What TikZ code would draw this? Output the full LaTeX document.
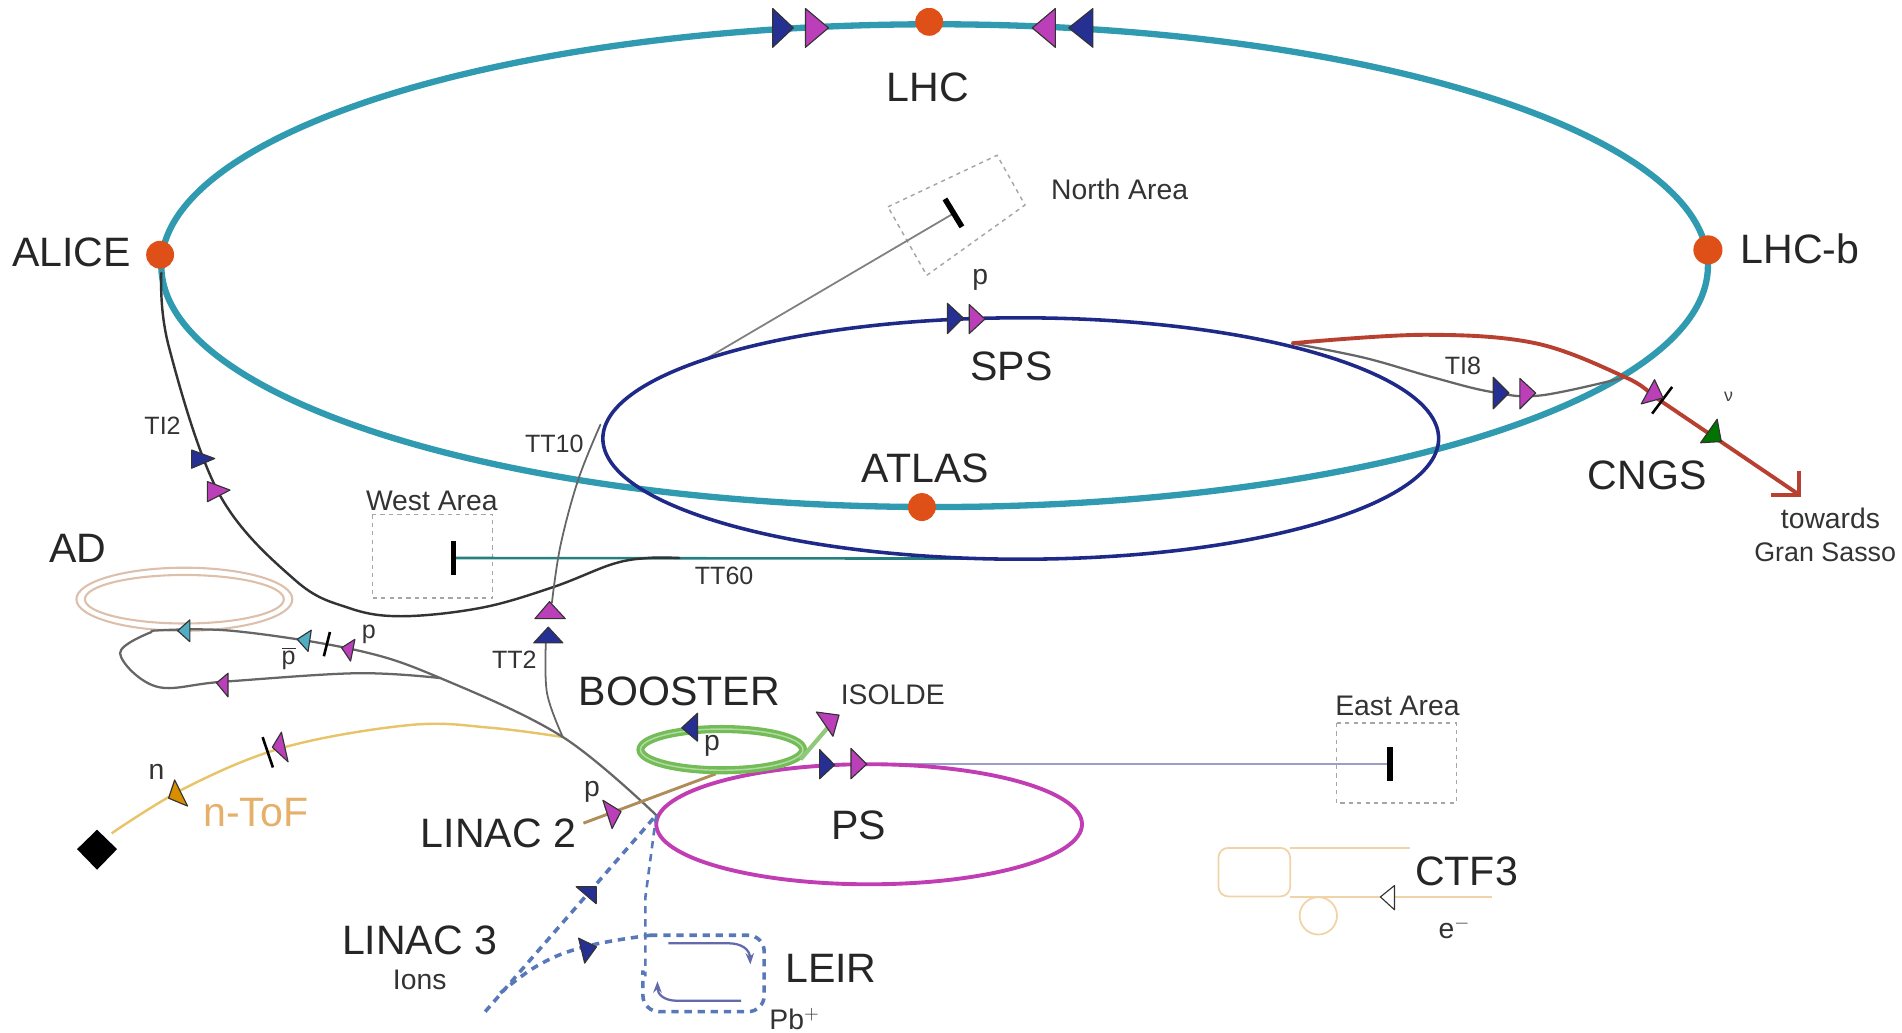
\documentclass[tikz,border=0pt]{standalone}
\usepackage{fontspec}
\setmainfont{Liberation Sans}
\usetikzlibrary{arrows.meta}
\definecolor{lhcteal}{HTML}{2F9AB0}
\definecolor{spsnavy}{HTML}{1F2A88}
\definecolor{psmag}{HTML}{C03DB4}
\definecolor{mknavy}{HTML}{262F92}
\definecolor{mkmag}{HTML}{BA3FB8}
\definecolor{mkteal}{HTML}{4FAEC2}
\definecolor{dotred}{HTML}{DE5018}
\definecolor{ntoftan}{HTML}{E8C468}
\definecolor{ntoftext}{HTML}{E5B06A}
\definecolor{linactan}{HTML}{B08C58}
\definecolor{cngsred}{HTML}{B84030}
\definecolor{adtan}{HTML}{DCC0AC}
\definecolor{ctftan}{HTML}{F0D4A8}
\definecolor{boostgreen}{HTML}{74BC58}
\definecolor{ionblue}{HTML}{5878B8}
\newcommand{\mk}[4]{\filldraw[markerbody,fill=#4] #1 -- #2 -- #3 -- cycle;}
\tikzset{
  big/.style={font=\fontsize{25.4}{28}\selectfont,text=black!85,inner sep=0pt},
  mid/.style={font=\fontsize{17.5}{20}\selectfont,text=black!80,inner sep=0pt},
  small/.style={font=\fontsize{15.5}{18}\selectfont,text=black!80,inner sep=0pt},
  markerbody/.style={draw=black!80,line width=0.7pt,line join=round},
  beamline/.style={draw=black!60,line width=1.4pt,line cap=round},
  tick/.style={draw=black,line width=1.6pt},
  stopbar/.style={draw=black,line width=3.4pt},
  area/.style={draw=black!35,line width=0.9pt,dash pattern=on 2.6pt off 2.6pt},
  ip/.style={fill=dotred},
  ionline/.style={draw=ionblue,line width=2.2pt,dash pattern=on 4.5pt off 3.6pt},
}
\begin{document}
\begin{tikzpicture}[x=0.75pt,y=-0.75pt]
\useasboundingbox (0,0) rectangle (1568,851);
\clip (0,7) rectangle (1568,851);

% junction coordinates
\coordinate (ringL) at (133,225);
\coordinate (spsExit) at (1065,283);
\coordinate (cross) at (1340,311);
\coordinate (northStart) at (580,297);
\coordinate (northEnd) at (786,176);
\coordinate (ttJoin) at (464,607.6);
\coordinate (psEntry) at (541,672);
\coordinate (tt60J) at (534,460);
\coordinate (cngsTip) at (1482,407);
\coordinate (westBar) at (374,460);
\coordinate (eastBar) at (1146,630);
\coordinate (tt2Top) at (455,497);
\coordinate (tt2Low) at (450,530);
\coordinate (adJ) at (363,559);
\coordinate (linacS) at (481,678.6);
\coordinate (linacE) at (590,638);
\coordinate (ion0) at (400,834);
\coordinate (ionF) at (412.5,818.6);
\coordinate (leirTL) at (536,771);
\coordinate (boostJ) at (660,626);
\coordinate (isolde) at (684,598);
\coordinate (psMark) at (714,630);

% area boxes
\draw[area] (307,424) rectangle (406,493);
\draw[area] (1101.6,596) rectangle (1200.5,662);
\draw[area] (732,170.5) -- (822,128) -- (845,169) -- (764,227) -- cycle;

% light lines
\draw[beamline,draw=black!50,line width=1.1pt] (northStart) -- (northEnd);
\draw[draw=black,stopbar] (779,164) -- (793,187);
\draw[draw=teal!70!gray,line width=1.6pt] (westBar) -- (800,460.5);
\draw[draw=spsnavy!45,line width=1.2pt] (psMark) -- (eastBar);

% AD ring
\draw[adtan,line width=1.3pt] (152,494) ellipse [x radius=89,y radius=26];
\draw[adtan,line width=1.3pt] (152,494) ellipse [x radius=82,y radius=20];

% LHC ring
\draw[lhcteal,line width=3.9pt] (770.5,219) ellipse [x radius=637.5,y radius=199];
% SPS ring
\draw[spsnavy,line width=2.2pt] (841.5,361.5) ellipse [x radius=344.5,y radius=99.5];
% PS ring
\draw[psmag,line width=2.4pt] (716.5,679.5) ellipse [x radius=175.5,y radius=49.5];

% transfer lines
\draw[beamline,draw=black!80,line width=1.5pt] plot[smooth,tension=0.6] coordinates {(ringL) (139,285) (180.5,406.8) (243,478) (287,501) (331,508) (397,501) (456,484) (505,465) (tt60J) (560,460)};
\draw[beamline,line width=1.1pt] plot[smooth,tension=0.6] coordinates {(495,350) (476.6,395.7) (462,450) (tt2Top)};
\draw[beamline,line width=1.1pt] plot[smooth,tension=0.6] coordinates {(tt2Low) (451,571.6) (ttJoin)};
\draw[ntoftan,line width=1.5pt] plot[smooth,tension=0.6] coordinates {(ttJoin) (405,600) (339,597.6) (235.6,615.7) (154.6,648.6) (92,687)};
\draw[beamline] plot[smooth,tension=0.6] coordinates {(125,520) (191,520) (294,536) (adJ) (ttJoin) (psEntry)};
\draw[beamline] plot[smooth,tension=0.6] coordinates {(125,521) (99,538.6) (129,566) (184,562) (294,555) (adJ)};
\draw[linactan,line width=1.8pt] (linacS) -- (linacE);

% booster
\draw[boostgreen,line width=5pt] (595,618) ellipse [x radius=67,y radius=17];
\draw[boostgreen!55,line width=0.9pt] (595,618) ellipse [x radius=67,y radius=17];
\draw[boostgreen!80!white,line width=2.6pt] (boostJ) -- (isolde);

% TI8 and CNGS
\draw[beamline] plot[smooth,tension=0.6] coordinates {(spsExit) (1125,295) (1181,311) (1229,323) (1270,326) (cross)};
\draw[cngsred,line width=2.4pt] plot[smooth,tension=0.6] coordinates {(spsExit) (1174,276) (1266,283) (cross) (1361,325)} -- (cngsTip);
\draw[cngsred,line width=2.4pt] (1483,388) -- (1483,408) -- (1460,408);
\draw[tick] (1378.5,319) -- (1362,341);

% ions
\draw[ionline] (ion0) -- (psEntry);
\draw[ionline] plot[smooth,tension=0.7] coordinates {(ionF) (445,795) (484,780) (leirTL)};
\draw[ionline,line width=1.6pt] (psEntry) -- (532,740) -- (532,805);
\draw[ionline,rounded corners=10pt] (536,771) -- (630,771) -- (630,834) -- (530,834) -- (530,800);
\draw[spsnavy!70!white,line width=1.4pt,-{Stealth[length=7pt]}] (551,777.6) -- (600,777.6) .. controls (612,777.6) and (618,783) .. (618.6,795);
\draw[spsnavy!70!white,line width=1.4pt,-{Stealth[length=7pt]}] (611,825) -- (558,825) .. controls (548,825) and (542,820) .. (542,809);

% ticks
\draw[tick] (272,521) -- (267,541);
\draw[tick] (216.5,607.7) -- (225,632.7);

% CTF3
\draw[ctftan,line width=1.1pt,rounded corners=6pt] (1004.5,699) rectangle (1063.6,739);
\draw[ctftan,line width=1.1pt] (1063.6,699) -- (1162.6,699);
\draw[ctftan,line width=1.1pt] (1063.6,739.5) -- (1230,739.5);
\draw[ctftan,line width=1.1pt] (1086.8,755) circle [radius=15.4];

% stop bars
\draw[stopbar] (374,446) -- (374,474);
\draw[stopbar] (1146,616) -- (1146,644);

% target
\fill[black] (80,684) -- (96.5,700) -- (80,717) -- (63.5,700) -- cycle;

% interaction points
\fill[ip] (132,210) circle [radius=11.5];
\fill[ip] (1408,206) circle [radius=12];
\fill[ip] (766,18) circle [radius=11.5];
\fill[ip] (760,418) circle [radius=11.5];

% LHC markers
\mk{(637,7)}{(654,23)}{(637,39)}{mknavy}
\mk{(664,7)}{(683,23)}{(664,39)}{mkmag}
\mk{(870,7)}{(851,23)}{(870,39)}{mkmag}
\mk{(901,7)}{(881,23)}{(901,39)}{mknavy}
% SPS markers
\mk{(781,250)}{(794,262)}{(781,275)}{mknavy}
\mk{(799,251)}{(812,263)}{(799,275)}{mkmag}
% TI8
\mk{(1231,311)}{(1244,324)}{(1231,337)}{mknavy}
\mk{(1253,312)}{(1266,324)}{(1253,337)}{mkmag}
% CNGS
\mk{(1364,313)}{(1353,333)}{(1371,328)}{mkmag}
\mk{(1415.6,345.6)}{(1402,365)}{(1419,364)}{green!45!black}
% TI2
\mk{(158,371)}{(177,378)}{(158,386)}{mknavy}
\mk{(171,397)}{(189.6,404)}{(171,413.6)}{mkmag}
% TT2
\mk{(441,510)}{(453,496)}{(466,510)}{mkmag}
\mk{(440,530)}{(452,517)}{(464,530)}{mknavy}
% AD
\mk{(146.5,520)}{(156.5,511)}{(156.5,529)}{mkteal}
\mk{(245,527)}{(256.6,519.5)}{(254,537)}{mkteal}
\mk{(281.6,534)}{(292.6,527)}{(289,545)}{mkmag}
\mk{(178.5,563)}{(188,555)}{(188,574.5)}{mkmag}
% nToF
\mk{(224.5,616)}{(232,603.6)}{(237.5,628)}{mkmag}
\mk{(144,643)}{(139,658)}{(154.6,664.5)}{orange!70!yellow!85!black}
% LINAC2
\mk{(497,659.7)}{(512,669)}{(504.6,683)}{mkmag}
% booster
\mk{(562,600)}{(575,588)}{(575,611)}{mknavy}
\mk{(673,587)}{(691.7,589.5)}{(686.7,607)}{mkmag}
% PS
\mk{(675.7,618)}{(688,630.6)}{(675.7,642)}{mknavy}
\mk{(701.5,617)}{(714.5,630)}{(701.5,642)}{mkmag}
% ions
\mk{(475,731)}{(491.5,731)}{(491.5,745)}{mknavy}
\mk{(477,773.4)}{(491.7,780.6)}{(482,794)}{mknavy}
% CTF3
\mk{(1138,739.4)}{(1149.6,730)}{(1149.6,750)}{white}

% labels
\node[big] (tLHC) at (765,72) {LHC};
\node[big] (tALICE) at (59,208) {ALICE};
\node[big] (tLHCb) at (1484,205) {LHC-b};
\node[big] (tSPS) at (834,302) {SPS};
\node[big] (tATLAS) at (763,386) {ATLAS};
\node[big] (tCNGS) at (1358,392) {CNGS};
\node[big] (tAD) at (64,452) {AD};
\node[big] (tBOOSTER) at (560,570) {BOOSTER};
\node[big] (tPS) at (708,680) {PS};
\node[big] (tLINACb) at (411,687) {LINAC 2};
\node[big] (tLINACc) at (346,775) {LINAC 3};
\node[big] (tLEIR) at (685,798) {LEIR};
\node[big] (tCTF) at (1209,718) {CTF3};
\node[big,text=ntoftext] (tnTOF) at (211,670) {n-ToF};
\node[mid] (tNorth) at (923,156) {North Area};
\node[mid] (tWest) at (356,413) {West Area};
\node[mid] (tEast) at (1152,582) {East Area};
\node[mid] (tIsolde) at (736,573) {ISOLDE};
\node[mid] (tIons) at (346,808) {Ions};
\node[mid] (tPb) at (655,840) {Pb$^{+}$};
\node[mid] (tTow) at (1509,427) {towards};
\node[mid,font=\fontsize{16.6}{20}\selectfont,anchor=west] (tGran) at (1446,455) {Gran Sasso};
\node[mid] (tE) at (1199,765) {e$^{-}$};
\node[small] (tTT10) at (457,366) {TT10};
\node[small] (tTI2) at (134,351) {TI2};
\node[small] (tTT2) at (424,544) {TT2};
\node[small] (tTT60) at (597,475) {TT60};
\node[small] (tTI8) at (1206,302) {TI8};
\node[mid] (tP1) at (808,231) {p};
\node[small] (tP2) at (304,523) {p};
\node[small] (tPbar) at (238,543) {$\overline{\mbox{p}}$};
\node[mid] (tP3) at (488,653) {p};
\node[mid] (tP4) at (587,615) {p};
\node[mid] (tN) at (129,636) {n};
\node[font=\fontsize{11}{13}\selectfont,text=black!75,inner sep=0pt] (tNu) at (1425,327) {ν};
\end{tikzpicture}
\end{document}
